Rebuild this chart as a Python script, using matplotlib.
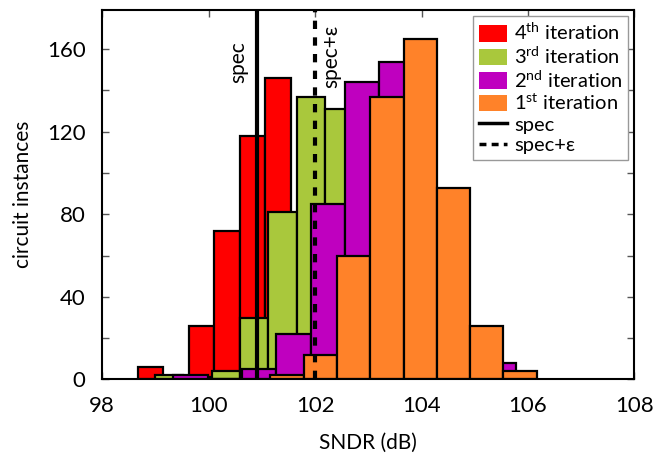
import numpy as np
import matplotlib
matplotlib.use("Agg")
import matplotlib.pyplot as plt
from matplotlib.patches import Patch
from matplotlib.lines import Line2D

# histogram data: first bin edge (dB), bin width (dB), counts per bin
red_start, red_width = 98.665, 0.480
red_counts = [6, 1, 26, 72, 118, 146, 80, 40, 10]

green_start, green_width = 98.99, 0.532
green_counts = [2, 1, 4, 30, 81, 137, 131, 80, 30, 5]

magenta_start, magenta_width = 99.337, 0.644
magenta_counts = [2, 0, 5, 22, 85, 144, 154, 60, 20, 8]

orange_start, orange_width = 101.16, 0.625
orange_counts = [2, 12, 60, 137, 165, 93, 26, 4]

spec = 100.9
spec_eps = 102.0

labels = ["4$^{\\mathrm{th}}$ iteration", "3$^{\\mathrm{rd}}$ iteration",
          "2$^{\\mathrm{nd}}$ iteration", "1$^{\\mathrm{st}}$ iteration"]
colors = ["#ff0000", "#a9c83c", "#bf00bf", "#ff8229"]

plt.rcParams['font.family'] = ['Lato', 'DejaVu Sans']
plt.rcParams['mathtext.fontset'] = 'custom'
plt.rcParams['mathtext.rm'] = 'Lato'
plt.rcParams['mathtext.it'] = 'Lato:italic'

fig = plt.figure(figsize=(6.57, 4.62), dpi=100)
ax = fig.add_axes([0.1557, 0.1786, 0.8100, 0.7998])

series = [(red_start, red_width, red_counts),
          (green_start, green_width, green_counts),
          (magenta_start, magenta_width, magenta_counts),
          (orange_start, orange_width, orange_counts)]

for (start, width, counts), c in zip(series, colors):
    lefts = start + width * np.arange(len(counts))
    ax.bar(lefts, counts, width, align='edge', color=c,
           edgecolor='black', linewidth=1.6, zorder=2)

ax.axvline(spec, color='black', linewidth=3, zorder=5)
ax.axvline(spec_eps, color='black', linewidth=3, linestyle=(0, (2, 2)), zorder=5)

ax.text(spec - 0.15, 164, "spec", rotation=90, ha='right', va='top', fontsize=15)
ax.text(spec_eps + 0.11, 172, "spec+ε", rotation=90, ha='left', va='top', fontsize=15)

ax.set_xlim(98, 108)
ax.set_ylim(0, 179)
ax.set_xticks(np.arange(98, 109, 2))
ax.set_yticks(np.arange(0, 161, 40))
ax.set_yticks(np.arange(20, 161, 40), minor=True)
ax.tick_params(which='both', direction='in', top=True, right=True,
               length=5, width=1, color='#555555', labelsize=16, pad=12)
ax.tick_params(which='minor', labelleft=False)
for s in ax.spines.values():
    s.set_linewidth(1.5)

ax.set_xlabel("SNDR (dB)", fontsize=15, labelpad=12)
ax.set_ylabel("circuit instances", fontsize=15, labelpad=10)

handles = [Patch(facecolor=c, edgecolor='none') for c in colors]
handles += [Line2D([], [], color='black', linewidth=2.5),
            Line2D([], [], color='black', linewidth=2.5, linestyle=(0, (2, 1.5)))]
leg = ax.legend(handles, labels + ["spec", "spec+ε"], loc='upper right',
                fontsize=14.5, fancybox=False, framealpha=1, edgecolor='#999999',
                labelspacing=0.12, handlelength=1.4, handleheight=0.9,
                handletextpad=0.35, borderpad=0.3, borderaxespad=0.3)
leg.get_frame().set_linewidth(1)

fig.savefig("out.png", dpi=100)
